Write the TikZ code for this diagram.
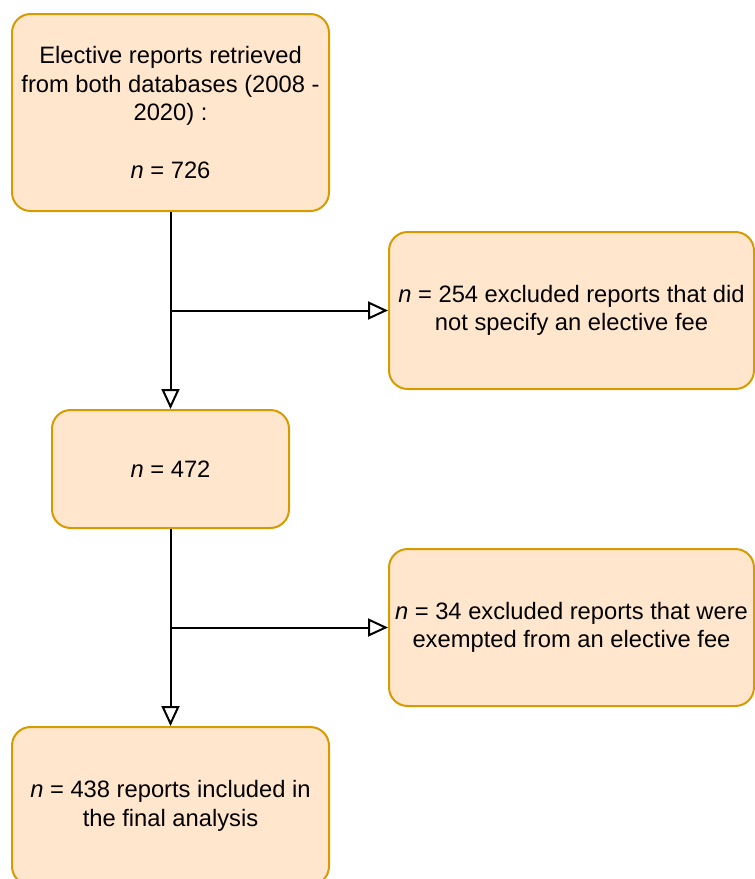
\documentclass[tikz,border=0pt]{standalone}
\usepackage{fontspec}
\setmainfont{Liberation Sans}
\usetikzlibrary{arrows.meta}
\definecolor{boxfill}{RGB}{255,230,204}
\definecolor{boxline}{RGB}{215,155,0}
\tikzset{every picture/.style={line width=0.75pt}}
\tikzset{
  flowbox/.style={draw=boxline, fill=boxfill, line width=1.5pt, rounded corners=14pt,
    inner sep=0pt, align=center, font=\fontsize{17.8}{21.4}\selectfont},
  flow/.style={draw=black, line width=1.5pt,
    -{Triangle[open, length=15pt, width=13.5pt, line width=1.5pt]}}
}

\begin{document}
\begin{tikzpicture}[x=0.75pt,y=0.75pt,yscale=-1,xscale=1]
\useasboundingbox (0,0) rectangle (755,879);

%Shape: Rounded Rect [id:retrieved]
\node [flowbox, minimum width=237.75pt, minimum height=147.75pt] (retrieved) at (170.5,112.5)
  {Elective reports retrieved\\ from both databases (2008 -\\ 2020) :\\[21.4pt] \textit{n} = 726};
%Shape: Rounded Rect [id:excl1]
\node [flowbox, minimum width=273.75pt, minimum height=117.75pt] (excl1) at (571.5,310.5)
  {\textit{n} = 254 excluded reports that did\\ not specify an elective fee};
%Shape: Rounded Rect [id:remain]
\node [flowbox, minimum width=177.75pt, minimum height=88.5pt] (remain) at (170.5,469)
  {\textit{n} = 472};
%Shape: Rounded Rect [id:excl2]
\node [flowbox, minimum width=273.75pt, minimum height=117.75pt] (excl2) at (571.5,627.5)
  {\textit{n} = 34 excluded reports that were\\ exempted from an elective fee};
%Shape: Rounded Rect [id:final]
\node [flowbox, minimum width=237.75pt, minimum height=118.5pt] (final) at (170.5,806)
  {\textit{n} = 438 reports included in\\ the final analysis};

%Straight Lines [id:main1]
\draw [flow] (retrieved.south) -- (remain.north);
\coordinate (split1) at (retrieved.south |- excl1.west);
\draw [flow] (split1) -- (excl1.west);
%Straight Lines [id:main2]
\draw [flow] (remain.south) -- (final.north);
\coordinate (split2) at (remain.south |- excl2.west);
\draw [flow] (split2) -- (excl2.west);

\end{tikzpicture}
\end{document}
